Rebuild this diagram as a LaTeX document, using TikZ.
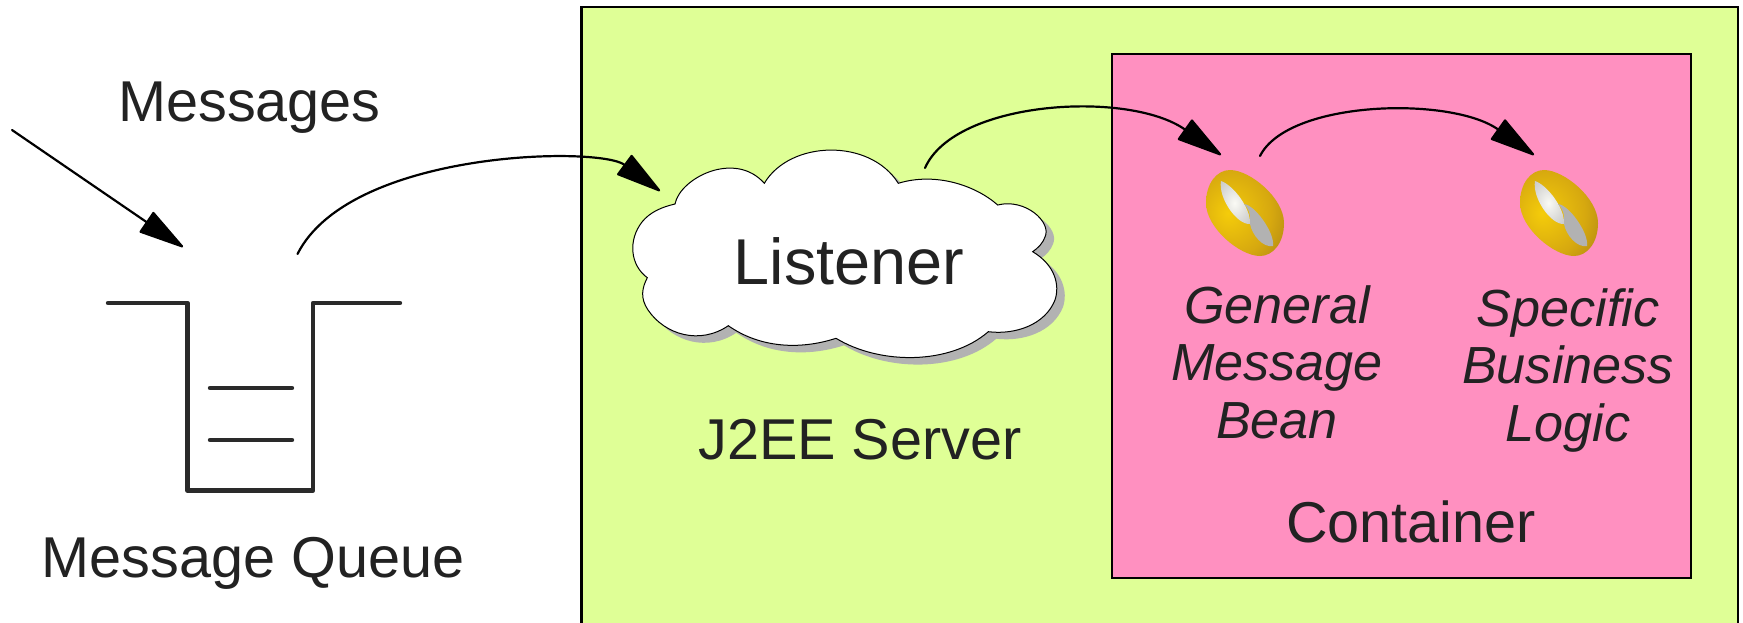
\documentclass[tikz,border=0pt]{standalone}
\usepackage{fontspec}
\setmainfont{Liberation Sans}
\usetikzlibrary{arrows.meta}
\definecolor{servergreen}{HTML}{DFFF96}
\definecolor{containerpink}{HTML}{FF90C0}
\definecolor{inktext}{HTML}{222222}
\definecolor{queueink}{HTML}{2A2A2A}
\definecolor{shadowgrey}{HTML}{B2B2B2}
\definecolor{beanA}{rgb}{0.96,0.80,0.04}
\definecolor{beanB}{rgb}{0.84,0.66,0.06}
\definecolor{beanC}{rgb}{0.62,0.47,0.08}
\definecolor{bladeA}{rgb}{0.98,0.98,0.96}
\definecolor{bladeB}{rgb}{0.86,0.86,0.85}
\definecolor{bladeC}{rgb}{0.70,0.70,0.70}
\pgfdeclareradialshading{beanshade}{\pgfpoint{-11bp}{0bp}}{%
 color(0bp)=(beanA);
 color(25bp)=(beanB);
 color(48bp)=(beanC);
 color(100bp)=(beanC)}
\pgfdeclareradialshading{bladeshade}{\pgfpoint{0bp}{0bp}}{%
 color(0bp)=(bladeA);
 color(20bp)=(bladeB);
 color(50bp)=(bladeC);
 color(100bp)=(bladeC)}
\tikzset{
 x=1pt,y=-1pt,
 panel/.style={draw=black,line width=2.8pt},
 lbl/.style={text=inktext,font=\fontsize{57.6}{64}\selectfont,align=center,inner sep=0pt},
 ilbl/.style={text=inktext,font=\fontsize{52.2}{57.5}\selectfont\itshape,align=center,inner sep=0pt},
 flow/.style={draw=black,line width=2.2pt,line cap=round,-{Triangle[length=48pt,width=25pt,round]}},
 queue/.style={draw=queueink,line width=4.4pt,line cap=round,line join=round},
 cloudshape/.style={line width=1pt}
}
\newcommand{\cloudpath}{(675,204)
 .. controls (680,178) and (735,150) .. (764.3,183.3)
 .. controls (790,140) and (870,138) .. (898.3,183.3)
 .. controls (935,172) and (975,185) .. (997.7,205)
 .. controls (1025,198) and (1052,222) .. (1045,237)
 .. controls (1043,243) and (1038,248) .. (1032.7,251.7)
 .. controls (1055,265) and (1060,285) .. (1055,300)
 .. controls (1045,325) and (1015,335) .. (988.3,331.7)
 .. controls (950,365) and (880,365) .. (836,338.3)
 .. controls (800,350) and (760,348) .. (728.3,325.7)
 .. controls (700,345) and (665,335) .. (648,310)
 .. controls (640,298) and (642,288) .. (647.3,277.7)
 .. controls (630,265) and (628,240) .. (642,222)
 .. controls (650,212) and (662,207) .. (675,204) -- cycle}
\newcommand{\beanat}[2]{%
 \begin{scope}[shift={(#1,#2)}]
  \path[shading=beanshade] (-39,-10)
   .. controls (-39,-30) and (-28,-43) .. (-15,-43)
   .. controls (5,-43) and (39,-15) .. (39,10)
   .. controls (39,30) and (28,43) .. (15,43)
   .. controls (-5,43) and (-39,15) .. (-39,-10) -- cycle;
  \path[shading=bladeshade] (-24,-32)
   .. controls (-27,-15) and (-8,12) .. (5,11)
   .. controls (6,-5) and (-12,-28) .. (-24,-32) -- cycle;
  \fill[shadowgrey] (-1,-9)
   .. controls (10,-8) and (30,20) .. (28,33)
   .. controls (18,35) and (7,22) .. (5,11)
   .. controls (6,0) and (3,-5) .. (-1,-9) -- cycle;
 \end{scope}}
\begin{document}
\begin{tikzpicture}
\fill[white] (0,0) rectangle (1743,624);
% panels
\begin{scope}
\clip (0,0) rectangle (1743,624);
\draw[panel,fill=servergreen] (581.5,7) rectangle (1738,640);
\end{scope}
\node[panel,fill=containerpink,minimum width=579pt,minimum height=524pt,inner sep=0pt,outer sep=0pt,anchor=north west] (container) at (1112,54) {};
% queue
\draw[queue] (108,303) -- (187.5,303) -- (187.5,490.5) -- (313,490.5) -- (313,303) -- (400,303);
\draw[queue] (210,388) -- (292,388);
\draw[queue] (210,440) -- (292,440);
% cloud
\fill[shadowgrey,shift={(8,7)}] \cloudpath;
\draw[fill=white,cloudshape] \cloudpath;
% beans
\beanat{1245}{213}
\beanat{1559}{213}
% labels
\node[lbl] (messages) at (249.5,108) {Messages};
\node[lbl] (mqlabel) at (253,563) {Message Queue};
\node[lbl,font=\fontsize{64.8}{70}\selectfont] (listener) at (849,261) {Listener};
\node[lbl] (server) at (860,440) {J2EE Server};
\node[lbl] (containerlbl) at (1411,522) {Container};
\node[ilbl] (gmb) at (1277,362) {General\\Message\\Bean};
\node[ilbl] (sbl) at (1568,370) {Specific\\Business\\Logic};
% connectors
\coordinate (msgstart) at (12,130);
\coordinate (msgend) at (183,247);
\coordinate (qout) at (297.5,254);
\coordinate (cloudin) at (660,191);
\coordinate (cloudout) at (925,168);
\coordinate (beanin) at (1221,155);
\coordinate (beanout) at (1260,156);
\coordinate (bean2in) at (1534,155);
\draw[flow] (msgstart) -- (msgend);
\draw[flow] (qout) .. controls (350,150) and (599,146) .. (cloudin);
\draw[flow] (cloudout) .. controls (955,100) and (1129,90) .. (beanin);
\draw[flow] (beanout) .. controls (1288,100) and (1451,96) .. (bean2in);
\pgfresetboundingbox
\useasboundingbox (0,0) rectangle (1743,622);
\end{tikzpicture}
\end{document}
